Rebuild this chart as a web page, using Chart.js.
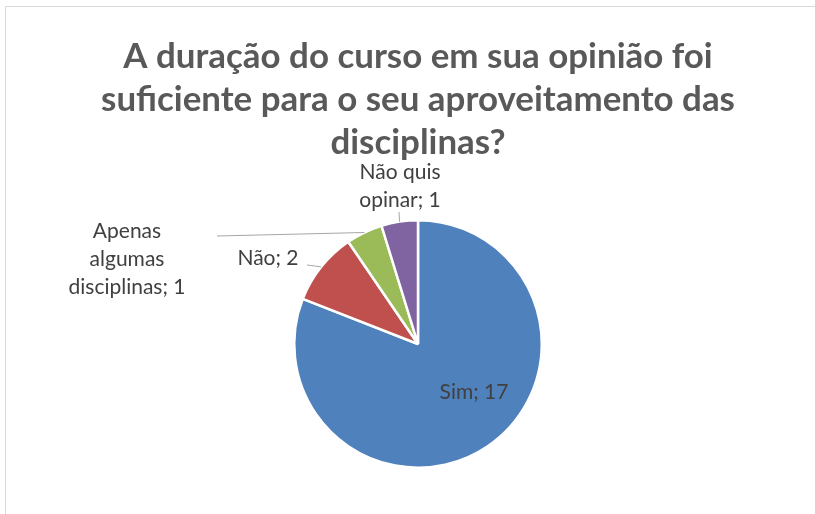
<!DOCTYPE html>
<html>
<head>
<meta charset="utf-8">
<script src="https://cdn.jsdelivr.net/npm/chart.js@4/dist/chart.umd.min.js"></script>
<style>
  body { margin: 0; background: #fff; }
  #wrap { width: 815px; height: 514px; position: relative; }
</style>
</head>
<body>
<div id="wrap"><canvas id="myChart" width="815" height="514"></canvas></div>
<script>
// Chart data
const titleLines = ['A duração do curso em sua opinião foi', 'suficiente para o seu aproveitamento das', 'disciplinas?'];
const categories = ['Sim', 'Não', 'Apenas algumas disciplinas', 'Não quis opinar'];
const counts = [17, 2, 1, 1];
const sliceColors = ['#4f81bd', '#c0504d', '#9bbb59', '#8064a2'];
// how each data label wraps (text only)
const labelLines = [['Sim; 17'], ['Não; 2'], ['Apenas', 'algumas', 'disciplinas; 1'], ['Não quis', 'opinar; 1']];

const FONT = 'Lato, "Open Sans", sans-serif';

// frame + title
const framePlugin = {
    id: 'frame',
    beforeDraw(chart) {
        const c = chart.ctx;
        c.save();
        c.strokeStyle = '#d9d9d9';
        c.lineWidth = 1;
        c.beginPath();
        c.moveTo(5.5, chart.height);
        c.lineTo(5.5, 6.5);
        c.lineTo(chart.width, 6.5);
        c.stroke();

        // title, sized so the first line is ~590px wide
        let size = 32;
        c.font = 'bold ' + size + 'px ' + FONT;
        size = size * 590 / c.measureText(titleLines[0]).width;
        c.font = 'bold ' + size.toFixed(1) + 'px ' + FONT;
        c.fillStyle = '#595959';
        c.textAlign = 'center';
        c.textBaseline = 'middle';
        titleLines.forEach((t, i) => c.fillText(t, 418, 57 + i * 43));
        c.restore();
    }
};

// data labels with leader lines
const labelPlugin = {
    id: 'pieLabels',
    afterDatasetsDraw(chart, args, opts) {
        const c = chart.ctx;
        const arcs = chart.getDatasetMeta(0).data;
        c.save();
        c.font = '21px ' + FONT;
        c.textAlign = 'center';
        c.textBaseline = 'middle';
        arcs.forEach((arc, i) => {
            const p = opts.place[i];
            const mid = (arc.startAngle + arc.endAngle) / 2;
            if (p.lead) {
                const ex = arc.x + Math.cos(mid) * arc.outerRadius;
                const ey = arc.y + Math.sin(mid) * arc.outerRadius;
                c.strokeStyle = '#a6a6a6';
                c.lineWidth = 1;
                c.beginPath();
                c.moveTo(p.lead[0], p.lead[1]);
                c.lineTo(ex, ey);
                c.stroke();
            }
            c.fillStyle = '#404040';
            const lines = labelLines[i];
            lines.forEach((t, k) => {
                c.fillText(t, p.x, p.y + (k - (lines.length - 1) / 2) * 28);
            });
        });
        c.restore();
    }
};

const ctx = document.getElementById('myChart');
new Chart(ctx, {
    type: 'pie',
    data: {
        labels: categories,
        datasets: [{
            data: counts,
            backgroundColor: sliceColors,
            borderColor: '#ffffff',
            borderWidth: 2.5
        }]
    },
    options: {
        responsive: false,
        animation: false,
        layout: { padding: { left: 293, right: 272, top: 218, bottom: 44 } },
        plugins: {
            legend: { display: false },
            tooltip: { enabled: false },
            pieLabels: {
                place: [
                    { x: 474, y: 392 },
                    { x: 268, y: 258, lead: [307, 265] },
                    { x: 127, y: 259, lead: [217, 236] },
                    { x: 400, y: 186, lead: [399, 212] }
                ]
            }
        }
    },
    plugins: [framePlugin, labelPlugin]
});
</script>
</body>
</html>
